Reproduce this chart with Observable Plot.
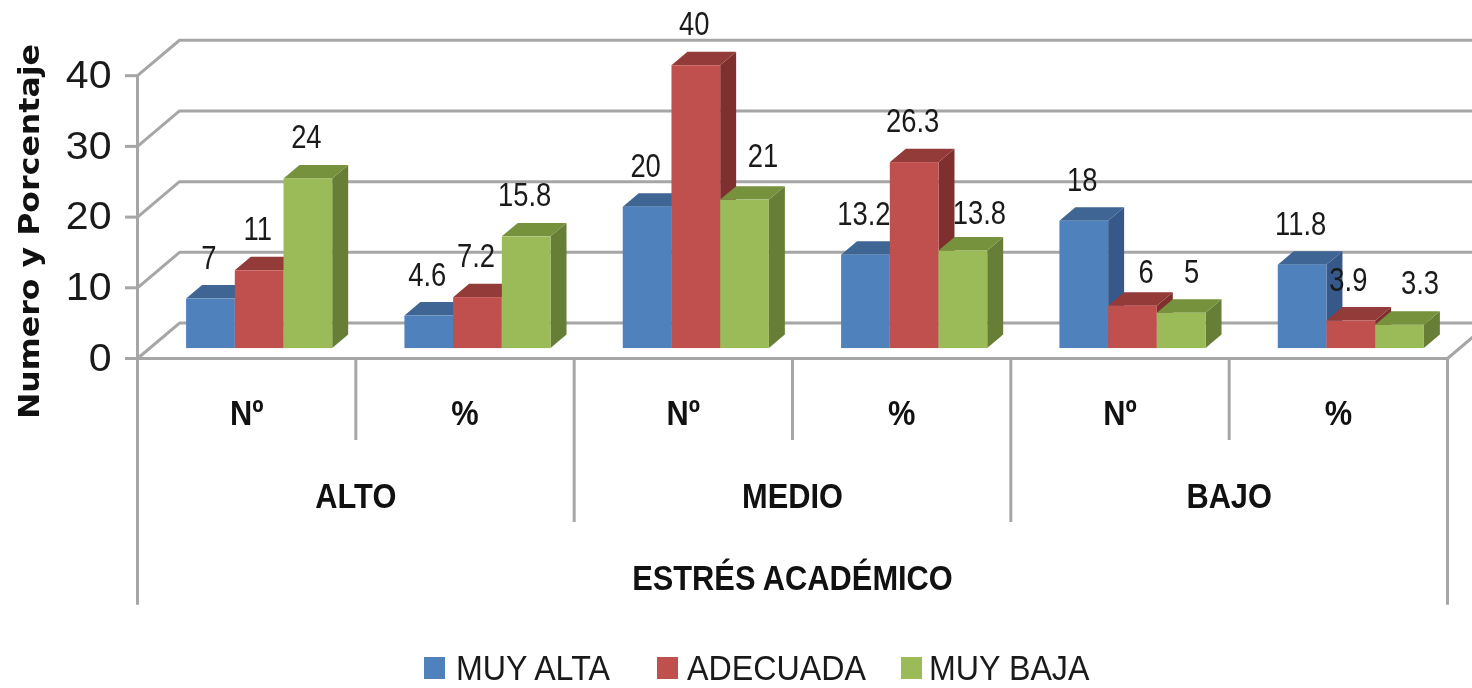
<!DOCTYPE html>
<html><head><meta charset="utf-8">
<script src="https://cdn.jsdelivr.net/npm/d3@7"></script>
<script src="https://cdn.jsdelivr.net/npm/@observablehq/plot@0.6"></script>
<style>
html,body{margin:0;padding:0;background:#fff;overflow:hidden}
#chart svg{display:block;filter:blur(.55px)}
#legend{position:relative;height:40px;filter:blur(.4px);
 font-family:"Liberation Sans",sans-serif;font-size:35px;line-height:40px;color:#1a1a1a;white-space:nowrap}
#legend i{position:absolute;top:9px;width:21px;height:22px}
#legend span{position:absolute;top:0;transform:scaleX(.92);transform-origin:left center}
</style></head><body>
<div id="chart"></div><div id="legend"></div>
<script>
const seriesNames = ["MUY ALTA", "ADECUADA", "MUY BAJA"];
const measures = ["Nº", "%", "Nº", "%", "Nº", "%"];
const levels = ["ALTO", "MEDIO", "BAJO"];
const axisTitle = "ESTRÉS ACADÉMICO";
const yTitle = "Numero y Porcentaje";
const yTicks = [0, 10, 20, 30, 40];
const muyAlta  = [7, 4.6, 20, 13.2, 18, 11.8];
const adecuada = [11, 7.2, 40, 26.3, 6, 3.9];
const muyBaja  = [24, 15.8, 21, 13.8, 5, 3.3];
const seriesValues = [muyAlta, adecuada, muyBaja];

const front = ["#4f81bd", "#c0504d", "#9bbb59"];
const top_  = ["#3e6593", "#923b39", "#76923c"];
const side  = ["#36598a", "#7f302e", "#667e36"];
const grid = "#a6a6a6";

// oblique projection: a point at depth d (0 = front of the box, 1 = back wall)
const UX = 218.33, UY = 7.08, WALL_X = 42, WALL_Y = 35.5;
const px = (u, d) => u + d * WALL_X / UX;
const py = (v, d) => v + d * WALL_Y / UY;
const D0 = 0.28, D1 = 0.66, START = 0.171, BW = 0.2231;

const bars = seriesValues.flatMap((vals, s) => vals.map((value, g) => ({
  s, g, value, key: s + "-" + g,
  a: g + START + s * BW, b: g + START + (s + 1) * BW
})));
const sideRows = bars.flatMap(d => [
  {s: d.s, z: d.key, x: px(d.b, D0), y1: py(0, D0), y2: py(d.value, D0)},
  {s: d.s, z: d.key, x: px(d.b, D1), y1: py(0, D1), y2: py(d.value, D1)}
]);
const topRows = bars.flatMap(d => [
  {s: d.s, z: d.key, y: py(d.value, D0), x1: px(d.a, D0), x2: px(d.b, D0)},
  {s: d.s, z: d.key, y: py(d.value, D1), x1: px(d.a, D1), x2: px(d.b, D1)}
]);
const gridRows = yTicks.flatMap(t => [
  {z: t, x: px(0, 0), y: py(t, 0)},
  {z: t, x: px(0, 1), y: py(t, 1)},
  {z: t, x: px(6, 1), y: py(t, 1)}
]);
const TIER1 = -11.6, TIER2 = -23.2, TIER3 = -34.9;
const LABEL1 = -7.8, LABEL2 = -19.5, LABEL3 = -31.1;

// labels sit above the bar; a few were moved aside in the reference
const nudges = {"2-2": [18, -44], "2-3": [16, -38], "1-4": [13, -34], "2-4": [10, -41],
                "1-5": [-3, -41], "2-5": [20, -42]};
const plain = bars.filter(d => !nudges[d.key]);
const sans = '"Liberation Sans",sans-serif';
const valueFont = {fontFamily: sans, fontSize: 33, fill: "#1a1a1a"};
const boldFont = {fontFamily: sans, fontSize: 35, fontWeight: 700, fill: "#111"};

const marks = [
  Plot.line(gridRows, {x: "x", y: "y", z: "z", stroke: grid, strokeWidth: 3}),
  Plot.line([{x: px(0, 0), y: 0}, {x: px(6, 0), y: 0}, {x: px(6, 1), y: py(0, 1)}], {x: "x", y: "y", stroke: grid, strokeWidth: 3}),
  Plot.ruleX([0], {y1: TIER3, y2: 40, stroke: grid, strokeWidth: 3}),
  Plot.ruleX([6], {y1: TIER3, y2: 0, stroke: grid, strokeWidth: 3}),
  Plot.ruleX([1, 3, 5], {y1: TIER1, y2: 0, stroke: grid, strokeWidth: 3}),
  Plot.ruleX([2, 4], {y1: TIER2, y2: 0, stroke: grid, strokeWidth: 3}),
  Plot.ruleY(yTicks, {x1: -12 / UX, x2: 0, stroke: grid, strokeWidth: 3})
];
front.forEach((_, s) => marks.push(Plot.areaY(sideRows.filter(d => d.s === s), {x: "x", y1: "y1", y2: "y2", z: "z", fill: side[s]})));
front.forEach((_, s) => marks.push(Plot.areaX(topRows.filter(d => d.s === s), {y: "y", x1: "x1", x2: "x2", z: "z", fill: top_[s]})));
front.forEach((_, s) => marks.push(Plot.rect(bars.filter(d => d.s === s), {
  x1: d => px(d.a, D0), x2: d => px(d.b, D0), y1: py(0, D0), y2: d => py(d.value, D0), fill: front[s]})));

const labelX = d => px((d.a + d.b) / 2, D0);
const labelY = d => py(d.value, D0);
marks.push(Plot.text(plain, {x: labelX, y: labelY, text: d => String(d.value), dx: -2, dy: -41, ...valueFont}));
bars.filter(d => nudges[d.key]).forEach(d => marks.push(
  Plot.text([d], {x: labelX, y: labelY, text: r => String(r.value), dx: nudges[d.key][0], dy: nudges[d.key][1], ...valueFont})));

marks.push(
  Plot.text(yTicks, {x: -26 / UX, y: d => d, text: d => String(d), textAnchor: "end",
    fontFamily: sans, fontSize: 38, fill: "#1a1a1a"}),
  Plot.text(measures, {x: (d, i) => i + 0.5, y: LABEL1, text: d => d, ...boldFont}),
  Plot.text(levels, {x: (d, i) => 2 * i + 1, y: LABEL2, text: d => d, ...boldFont}),
  Plot.text([axisTitle], {x: 3, y: LABEL3, text: d => d, ...boldFont}),
  Plot.text([yTitle], {x: -108 / UX, y: 17.96, text: d => d, rotate: -90,
    fontFamily: '"DejaVu Sans",sans-serif', fontWeight: 700, fontSize: 29, fill: "#111"})
);

const chart = Plot.plot({
  width: 1472, height: 648,
  marginLeft: 0, marginRight: 0, marginTop: 0, marginBottom: 0,
  x: {type: "linear", domain: [0, 6], range: [137, 1447], axis: null},
  y: {type: "linear", domain: [0, 40], range: [358, 75.2], axis: null},
  marks
});
document.getElementById("chart").appendChild(chart);

// the reference uses a condensed face: squeeze glyphs per text size
const squeeze = {33: 0.83, 35: 0.88, 38: 1.08, 29: 1.09};
chart.querySelectorAll("text").forEach(t => {
  const k = squeeze[parseFloat(getComputedStyle(t).fontSize)];
  if (k) {
    t.setAttribute("textLength", t.getComputedTextLength() * k);
    t.setAttribute("lengthAdjust", "spacingAndGlyphs");
  }
});

const swatchLeft = [424, 657, 901], textLeft = [456, 687, 929];
const legend = d3.select("#legend");
seriesNames.forEach((name, i) => {
  legend.append("i").style("background", front[i]).style("left", swatchLeft[i] + "px");
  legend.append("span").text(name).style("left", textLeft[i] + "px");
});
</script>
</body></html>
